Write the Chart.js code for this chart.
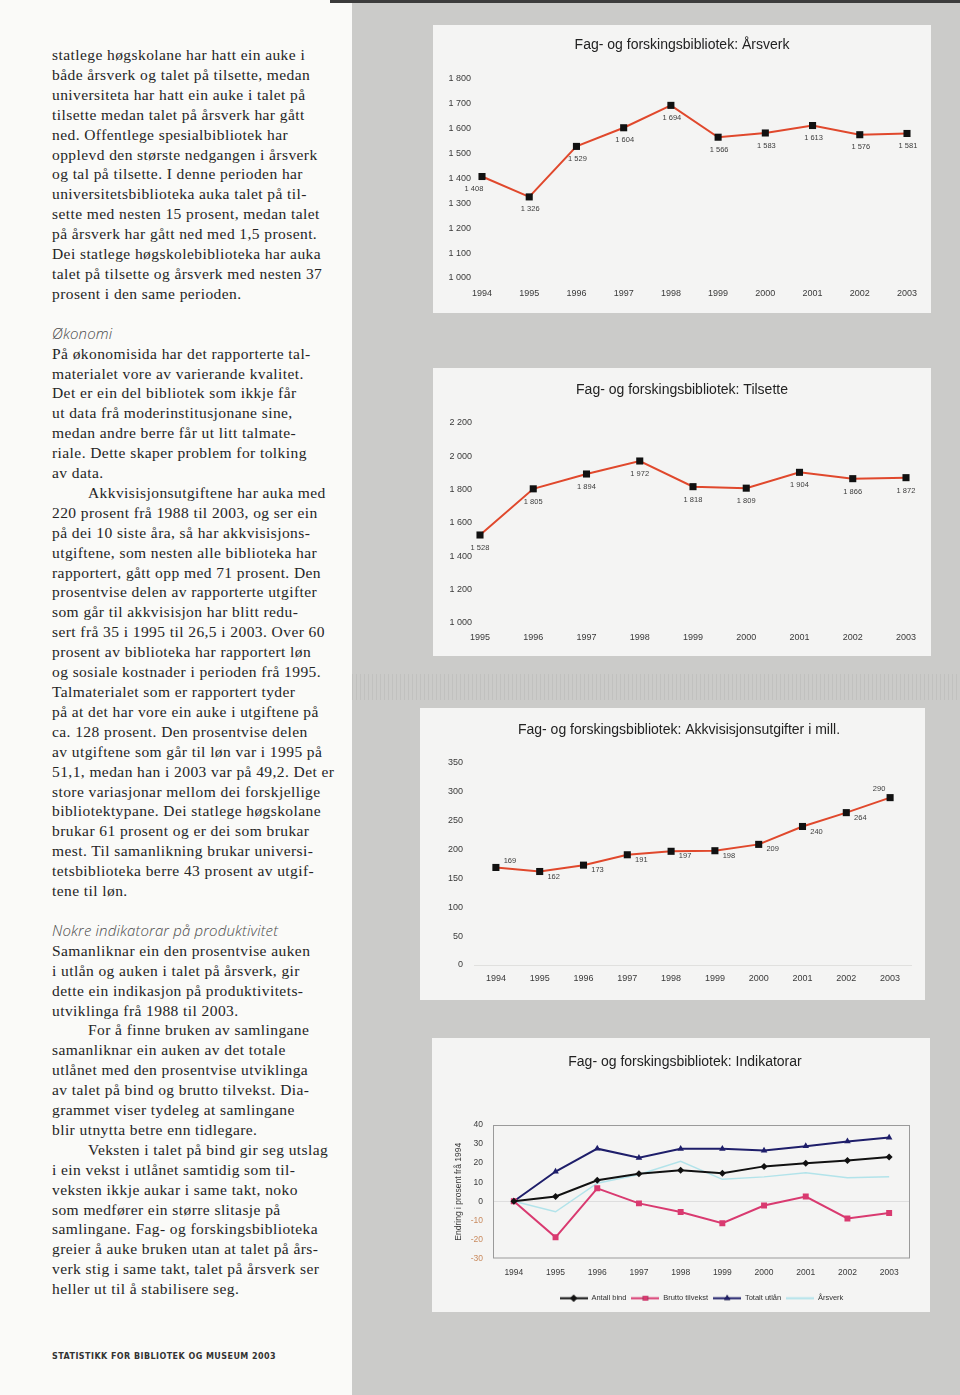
<!DOCTYPE html>
<html lang="nn">
<head>
<meta charset="utf-8">
<title>Fag- og forskingsbibliotek</title>
<script src="https://cdn.jsdelivr.net/npm/chart.js@4.4.0/dist/chart.umd.min.js"></script>
<style>
  html, body { margin: 0; padding: 0; }
  body {
    width: 960px; height: 1395px; position: relative; overflow: hidden;
    background: #fafaf8;
  }
  .strip { position: absolute; left: 352px; top: 0; width: 608px; height: 1395px; background: #cbcbc9; }
  .streaks {
    position: absolute; left: 352px; top: 674px; width: 608px; height: 26px;
    background: repeating-linear-gradient(90deg, rgba(0,0,0,0.05) 0 1px, transparent 1px 4px);
  }
  .topedge { position: absolute; left: 330px; top: 0; width: 630px; height: 3px; background: #3c3c3c; }
  .box { position: absolute; background: #f4f4f3; }
  .box canvas { display: block; }
  .text {
    position: absolute; left: 52px; top: 45px;
    font-family: "Liberation Serif", serif; font-size: 15.5px; line-height: 19.92px;
    letter-spacing: 0.42px; color: #252525; white-space: nowrap;
  }
  .text div { height: 19.92px; }
  .text .ind { padding-left: 36px; }
  .text .head {
    font-family: "Open Sans", sans-serif; font-style: italic; font-weight: 300;
    font-size: 15px; letter-spacing: 0.15px; color: #4a4a4a;
  }
  .footer {
    position: absolute; left: 52px; top: 1352px;
    font-family: "DejaVu Sans", sans-serif; font-size: 8px; font-weight: bold;
    letter-spacing: 0.45px; color: #333;
  }
</style>
</head>
<body>
<div class="strip"></div>
<div class="streaks"></div>
<div class="topedge"></div>

<div class="text">
  <div>statlege høgskolane har hatt ein auke i</div>
  <div>både årsverk og talet på tilsette, medan</div>
  <div>universiteta har hatt ein auke i talet på</div>
  <div>tilsette medan talet på årsverk har gått</div>
  <div>ned. Offentlege spesialbibliotek har</div>
  <div>opplevd den største nedgangen i årsverk</div>
  <div>og tal på tilsette. I denne perioden har</div>
  <div>universitetsbiblioteka auka talet på til-</div>
  <div>sette med nesten 15 prosent, medan talet</div>
  <div>på årsverk har gått ned med 1,5 prosent.</div>
  <div>Dei statlege høgskolebiblioteka har auka</div>
  <div>talet på tilsette og årsverk med nesten 37</div>
  <div>prosent i den same perioden.</div>
  <div></div>
  <div class="head">Økonomi</div>
  <div>På økonomisida har det rapporterte tal-</div>
  <div>materialet vore av varierande kvalitet.</div>
  <div>Det er ein del bibliotek som ikkje får</div>
  <div>ut data frå moderinstitusjonane sine,</div>
  <div>medan andre berre får ut litt talmate-</div>
  <div>riale. Dette skaper problem for tolking</div>
  <div>av data.</div>
  <div class="ind">Akkvisisjonsutgiftene har auka med</div>
  <div>220 prosent frå 1988 til 2003, og ser ein</div>
  <div>på dei 10 siste åra, så har akkvisisjons-</div>
  <div>utgiftene, som nesten alle biblioteka har</div>
  <div>rapportert, gått opp med 71 prosent. Den</div>
  <div>prosentvise delen av rapporterte utgifter</div>
  <div>som går til akkvisisjon har blitt redu-</div>
  <div>sert frå 35 i 1995 til 26,5 i 2003. Over 60</div>
  <div>prosent av biblioteka har rapportert løn</div>
  <div>og sosiale kostnader i perioden frå 1995.</div>
  <div>Talmaterialet som er rapportert tyder</div>
  <div>på at det har vore ein auke i utgiftene på</div>
  <div>ca. 128 prosent. Den prosentvise delen</div>
  <div>av utgiftene som går til løn var i 1995 på</div>
  <div>51,1, medan han i 2003 var på 49,2. Det er</div>
  <div>store variasjonar mellom dei forskjellige</div>
  <div>bibliotektypane. Dei statlege høgskolane</div>
  <div>brukar 61 prosent og er dei som brukar</div>
  <div>mest. Til samanlikning brukar universi-</div>
  <div>tetsbiblioteka berre 43 prosent av utgif-</div>
  <div>tene til løn.</div>
  <div></div>
  <div class="head">Nokre indikatorar på produktivitet</div>
  <div>Samanliknar ein den prosentvise auken</div>
  <div>i utlån og auken i talet på årsverk, gir</div>
  <div>dette ein indikasjon på produktivitets-</div>
  <div>utviklinga frå 1988 til 2003.</div>
  <div class="ind">For å finne bruken av samlingane</div>
  <div>samanliknar ein auken av det totale</div>
  <div>utlånet med den prosentvise utviklinga</div>
  <div>av talet på bind og brutto tilvekst. Dia-</div>
  <div>grammet viser tydeleg at samlingane</div>
  <div>blir utnytta betre enn tidlegare.</div>
  <div class="ind">Veksten i talet på bind gir seg utslag</div>
  <div>i ein vekst i utlånet samtidig som til-</div>
  <div>veksten ikkje aukar i same takt, noko</div>
  <div>som medfører ein større slitasje på</div>
  <div>samlingane. Fag- og forskingsbiblioteka</div>
  <div>greier å auke bruken utan at talet på års-</div>
  <div>verk stig i same takt, talet på årsverk ser</div>
  <div>heller ut til å stabilisere seg.</div>
</div>

<div class="footer">STATISTIKK FOR BIBLIOTEK OG MUSEUM 2003</div>

<div class="box" style="left:433px; top:25px;"><canvas id="arsverkChart" width="498" height="288"></canvas></div>
<div class="box" style="left:433px; top:368px;"><canvas id="tilsetteChart" width="498" height="288"></canvas></div>
<div class="box" style="left:420px; top:708px;"><canvas id="akkvisisjonChart" width="505" height="292"></canvas></div>
<div class="box" style="left:432px; top:1038px;"><canvas id="indikatorChart" width="498" height="274"></canvas></div>

<script>
// --- data ---
const years94 = ["1994", "1995", "1996", "1997", "1998", "1999", "2000", "2001", "2002", "2003"];
const years95 = ["1995", "1996", "1997", "1998", "1999", "2000", "2001", "2002", "2003"];

const arsverk = [1408, 1326, 1529, 1604, 1694, 1566, 1583, 1613, 1576, 1581];
const tilsette = [1528, 1805, 1894, 1972, 1818, 1809, 1904, 1866, 1872];
const akkvisisjon = [169, 162, 173, 191, 197, 198, 209, 240, 264, 290];

// Indikatorar: endring i prosent frå 1994
const antallBind = [0, 2.5, 11, 14.4, 16.3, 14.7, 18.3, 19.9, 21.4, 23.2];
const bruttoTilvekst = [0, -18.9, 6.8, -1.1, -5.6, -11.5, -2.2, 2.5, -9, -6.1];
const totaltUtlan = [0, 15.6, 27.6, 22.8, 27.5, 27.5, 26.6, 28.9, 31.4, 33.4];
const arsverkEndring = [0, -5.5, 9.5, 14, 21, 11.5, 12.8, 15, 12.3, 12.8];

const RED = "#e0482c";
const PINK = "#d93a70";
const NAVY = "#1e1e6a";
const CYAN = "#b2e3ea";

const TITLE_SIZE = 14;
const TITLE_LINE = TITLE_SIZE * 1.2;

Chart.defaults.font.family = "'Liberation Sans', Arial, sans-serif";
Chart.defaults.color = "#3a3a3a";
Chart.defaults.animation = false;

function spaced(v) {
  return String(v).replace(/\B(?=(\d{3})+(?!\d))/g, " ");
}

// empty axis on the right: reserves the right margin without
// narrowing the title box, so the title stays centred in the frame
function spacerAxis(width) {
  return {
    type: "linear",
    position: "right",
    grid: { display: false, drawTicks: false },
    border: { display: false },
    ticks: { display: false },
    afterFit: (scale) => { scale.width = width; },
  };
}

// small value labels next to each point
const valueLabels = {
  id: "valueLabels",
  afterDatasetsDraw(chart, args, opts) {
    if (!opts.display) return;
    const ctx = chart.ctx;
    const meta = chart.getDatasetMeta(0);
    const values = chart.data.datasets[0].data;
    ctx.save();
    ctx.font = "7.5px 'Liberation Sans', Arial, sans-serif";
    ctx.fillStyle = "#3c3c3c";
    ctx.textAlign = "center";
    ctx.textBaseline = "middle";
    meta.data.forEach((pt, i) => {
      const off = opts.offset(i, values.length);
      ctx.fillText(spaced(values[i]), pt.x + off.dx, pt.y + off.dy);
    });
    ctx.restore();
  },
};

// grey frame round the plot area (only used on the indicator chart)
const plotFrame = {
  id: "plotFrame",
  beforeDatasetsDraw(chart, args, opts) {
    if (!opts.display) return;
    const a = chart.chartArea;
    const ctx = chart.ctx;
    ctx.save();
    ctx.strokeStyle = opts.color;
    ctx.lineWidth = 1;
    ctx.strokeRect(a.left + 0.5, a.top + 0.5, a.right - a.left - 1, a.bottom - a.top - 1);
    ctx.restore();
  },
};

Chart.register(valueLabels, plotFrame);

// one red line with black square markers, placed so the plot area lands
// where it is in the scanned page
function redLineChart(id, labels, values, cfg) {
  const canvas = document.getElementById(id);
  const W = canvas.width;
  const H = canvas.height;
  const titleTop = cfg.titleY - TITLE_LINE / 2;

  return new Chart(canvas, {
    type: "line",
    data: {
      labels: labels,
      datasets: [
        {
          data: values,
          borderColor: RED,
          borderWidth: 2,
          pointStyle: "rect",
          pointRadius: 5,
          pointBackgroundColor: "#111",
          pointBorderColor: "#111",
          pointBorderWidth: 0,
          tension: 0,
        },
      ],
    },
    options: {
      responsive: false,
      layout: { padding: { left: cfg.padLeft, right: 0, top: 0, bottom: 0 } },
      scales: {
        x: {
          offset: cfg.offset,
          grid: { display: false, drawTicks: false },
          border: { display: false },
          ticks: { font: { size: 9 }, padding: cfg.xPad, maxRotation: 0, autoSkip: false },
          afterFit: (scale) => { scale.height = H - cfg.area.bottom; },
        },
        y: {
          min: cfg.min,
          max: cfg.max,
          grid: {
            drawTicks: false,
            color: (ctx) => (cfg.zeroLine && ctx.tick.value === 0 ? "#e0e0de" : "transparent"),
          },
          border: { display: false },
          ticks: { stepSize: cfg.step, font: { size: 9 }, padding: cfg.yPad, callback: (v) => spaced(v) },
          afterFit: (scale) => { scale.width = cfg.area.left - cfg.padLeft; },
        },
        spacer: spacerAxis(W - cfg.area.right),
      },
      plugins: {
        legend: { display: false },
        tooltip: { enabled: false },
        title: {
          display: true,
          text: cfg.title,
          color: "#222",
          font: { size: TITLE_SIZE, weight: "normal" },
          padding: { top: titleTop, bottom: cfg.area.top - titleTop - TITLE_LINE },
        },
        valueLabels: { display: true, offset: cfg.labelOffset },
        plotFrame: { display: false },
      },
    },
  });
}

// legend sample: short line with the series marker in the middle
function legendIcon(color, marker) {
  const c = document.createElement("canvas");
  c.width = 28;
  c.height = 9;
  const g = c.getContext("2d");
  g.strokeStyle = color;
  g.lineWidth = 2;
  g.beginPath();
  g.moveTo(0, 4.5);
  g.lineTo(28, 4.5);
  g.stroke();
  if (marker) {
    Chart.helpers.drawPoint(g, { pointStyle: marker, radius: 3.5, rotation: 0, borderWidth: 0 }, 14, 4.5);
    g.fillStyle = color;
    g.fill();
  }
  return c;
}

function indicatorChart() {
  const canvas = document.getElementById("indikatorChart");
  const W = canvas.width;
  const area = { left: 61, right: 478, top: 87, bottom: 219 };
  const padLeft = 8;
  const titleTop = 24 - TITLE_LINE / 2;

  const series = [
    { label: "Antall bind", data: antallBind, color: "#111", marker: "rectRot", r: 3.5 },
    { label: "Brutto tilvekst", data: bruttoTilvekst, color: PINK, marker: "rect", r: 4.2 },
    { label: "Totalt utlån", data: totaltUtlan, color: NAVY, marker: "triangle", r: 3.8 },
    { label: "Årsverk", data: arsverkEndring, color: CYAN, marker: false, r: 0 },
  ];
  const icons = series.map((s) => legendIcon(s.color, s.marker));

  return new Chart(canvas, {
    type: "line",
    data: {
      labels: years94,
      datasets: series.map((s) => ({
        label: s.label,
        data: s.data,
        borderColor: s.color,
        borderWidth: s.marker ? 2 : 1.5,
        pointStyle: s.marker || "circle",
        pointRadius: s.r,
        pointBackgroundColor: s.color,
        pointBorderColor: s.color,
        pointBorderWidth: 0,
        tension: 0,
      })),
    },
    options: {
      responsive: false,
      layout: { padding: { left: padLeft, right: 0, top: 0, bottom: 0 } },
      scales: {
        x: {
          offset: true,
          grid: { display: false, drawTicks: false },
          border: { display: false },
          ticks: { font: { size: 8.5 }, padding: 9, maxRotation: 0, autoSkip: false },
          afterFit: (scale) => { scale.height = 31; },
        },
        y: {
          min: -30,
          max: 40,
          grid: {
            drawTicks: false,
            color: (ctx) => (ctx.tick.value === 0 ? "#dedede" : "transparent"),
          },
          border: { display: false },
          ticks: {
            stepSize: 10,
            font: { size: 8.5 },
            padding: 10,
            color: (ctx) => (ctx.tick.value < 0 ? "#c98b5f" : "#3a3a3a"),
          },
          title: {
            display: true,
            text: "Endring i prosent frå 1994",
            font: { size: 8.5 },
            color: "#3a3a3a",
            padding: { top: 13.5, bottom: 0 },
          },
          afterFit: (scale) => { scale.width = area.left - padLeft; },
        },
        spacer: spacerAxis(W - area.right),
      },
      plugins: {
        tooltip: { enabled: false },
        title: {
          display: true,
          text: "Fag- og forskingsbibliotek: Indikatorar",
          color: "#222",
          font: { size: TITLE_SIZE, weight: "normal" },
          padding: { top: titleTop, bottom: area.top - titleTop - TITLE_LINE },
        },
        legend: {
          display: true,
          position: "bottom",
          fullSize: false,
          labels: {
            usePointStyle: true,
            pointStyleWidth: 28,
            boxHeight: 8,
            padding: 5,
            color: "#333",
            font: { size: 7.5 },
            generateLabels: (chart) =>
              Chart.defaults.plugins.legend.labels.generateLabels(chart).map((item, i) => {
                item.pointStyle = icons[i];
                return item;
              }),
          },
        },
        valueLabels: { display: false },
        plotFrame: { display: true, color: "#9a9a9a" },
      },
    },
  });
}

document.addEventListener("DOMContentLoaded", () => {
  redLineChart("arsverkChart", years94, arsverk, {
    title: "Fag- og forskingsbibliotek: Årsverk",
    titleY: 20,
    area: { left: 49, right: 474, top: 54, bottom: 253 },
    padLeft: 0,
    min: 1000, max: 1800, step: 100,
    xPad: 10, yPad: 11, offset: false,
    labelOffset: (i) => (i === 0 ? { dx: -8, dy: 12 } : { dx: 1, dy: 12.5 }),
  });

  redLineChart("tilsetteChart", years95, tilsette, {
    title: "Fag- og forskingsbibliotek: Tilsette",
    titleY: 22,
    area: { left: 47, right: 473, top: 55, bottom: 255 },
    padLeft: 0,
    min: 1000, max: 2200, step: 200,
    xPad: 9, yPad: 8, offset: false,
    labelOffset: () => ({ dx: 0, dy: 13 }),
  });

  redLineChart("akkvisisjonChart", years94, akkvisisjon, {
    title: "Fag- og forskingsbibliotek: Akkvisisjonsutgifter i mill.",
    titleY: 22,
    area: { left: 54, right: 492, top: 55, bottom: 257 },
    padLeft: 13,
    min: 0, max: 350, step: 50,
    xPad: 8, yPad: 11, offset: true, zeroLine: true,
    labelOffset: (i, n) => {
      if (i === 0) return { dx: 14, dy: -7 };
      if (i === n - 1) return { dx: -11, dy: -9 };
      return { dx: 14, dy: 5 };
    },
  });

  indicatorChart();
});
</script>
</body>
</html>
